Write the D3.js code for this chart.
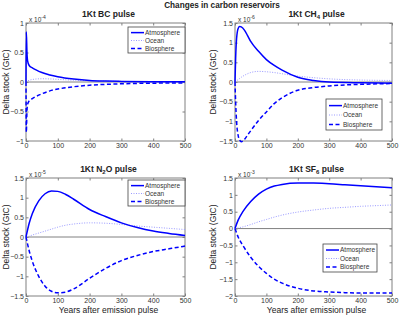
<!DOCTYPE html>
<html><head><meta charset="utf-8">
<script src="https://cdn.jsdelivr.net/npm/d3@7"></script>
<style>body{margin:0;background:#fff}svg{display:block;font-family:"Liberation Sans",Arial,sans-serif}</style>
</head><body><svg id="c" width="400" height="317"></svg>
<script>
const mainTitle = "Changes in carbon reservoirs";
const seriesNames = ["Atmosphere", "Ocean", "Biosphere"];
const xTicks = [0, 100, 200, 300, 400, 500];

// BC pulse (x 1e-4)
const bcYears = [0, 1, 3, 5, 10, 20, 30, 50, 75, 100, 150, 200, 250, 300, 400, 500];
const bcAtm   = [0, 0.85, 0.5, 0.36, 0.28, 0.24, 0.21, 0.16, 0.12, 0.09, 0.05, 0.025, 0.015, 0.01, 0.005, 0.003];
const bcOcn   = [0, 0.005, 0.012, 0.018, 0.03, 0.042, 0.05, 0.055, 0.052, 0.045, 0.03, 0.02, 0.014, 0.01, 0.006, 0.004];
const bcBio   = [0, -0.85, -0.5, -0.38, -0.32, -0.28, -0.25, -0.2, -0.15, -0.12, -0.08, -0.055, -0.04, -0.03, -0.02, -0.015];

// CH4 pulse (x 1e-6)
const ch4Years = [0, 2, 5, 10, 15, 20, 30, 40, 50, 75, 100, 125, 150, 200, 250, 300, 400, 500];
const ch4Atm   = [0, 0.6, 1.1, 1.36, 1.41, 1.4, 1.32, 1.18, 1.03, 0.78, 0.57, 0.42, 0.3, 0.12, 0.04, 0.0, -0.02, -0.03];
const ch4Ocn   = [0, 0.01, 0.03, 0.06, 0.09, 0.12, 0.17, 0.21, 0.24, 0.27, 0.26, 0.24, 0.21, 0.15, 0.11, 0.08, 0.05, 0.04];
const ch4Bio   = [0, -0.5, -1.0, -1.36, -1.48, -1.52, -1.46, -1.35, -1.24, -0.98, -0.76, -0.55, -0.4, -0.21, -0.14, -0.1, -0.06, -0.04];

// N2O pulse (x 1e-5)
const n2oYears = [0, 10, 20, 40, 60, 80, 100, 125, 150, 200, 250, 300, 350, 400, 450, 500];
const n2oAtm   = [0, 0.35, 0.6, 0.92, 1.1, 1.17, 1.16, 1.08, 0.96, 0.7, 0.52, 0.36, 0.24, 0.15, 0.09, 0.04];
const n2oOcn   = [0, 0.02, 0.05, 0.1, 0.15, 0.2, 0.25, 0.3, 0.33, 0.36, 0.35, 0.32, 0.28, 0.25, 0.22, 0.19];
const n2oBio   = [0, -0.35, -0.62, -1.0, -1.25, -1.38, -1.42, -1.4, -1.32, -1.05, -0.8, -0.6, -0.47, -0.37, -0.3, -0.23];

// SF6 pulse (x 1e-3)
const sf6Years = [0, 10, 25, 50, 75, 100, 125, 150, 200, 250, 300, 350, 400, 450, 500];
const sf6Atm   = [0, 0.25, 0.5, 0.8, 1.02, 1.17, 1.26, 1.31, 1.35, 1.35, 1.33, 1.3, 1.27, 1.24, 1.21];
const sf6Ocn   = [0, 0.02, 0.05, 0.12, 0.2, 0.27, 0.34, 0.4, 0.49, 0.55, 0.6, 0.63, 0.66, 0.68, 0.7];
const sf6Bio   = [0, -0.25, -0.5, -0.85, -1.12, -1.33, -1.5, -1.62, -1.77, -1.85, -1.88, -1.9, -1.91, -1.91, -1.91];

const panels = [
  {title: ["1Kt BC pulse"], exp: "-4", years: bcYears, s: [bcAtm, bcOcn, bcBio], yDom: [-1, 1], yTicks: [-1, -0.5, 0, 0.5, 1], xlab: false},
  {title: ["1Kt CH", "4", " pulse"], exp: "-6", years: ch4Years, s: [ch4Atm, ch4Ocn, ch4Bio], yDom: [-1.5, 1.5], yTicks: [-1.5, -1, -0.5, 0, 0.5, 1, 1.5], xlab: false},
  {title: ["1Kt N", "2", "O pulse"], exp: "-5", years: n2oYears, s: [n2oAtm, n2oOcn, n2oBio], yDom: [-1.5, 1.5], yTicks: [-1.5, -1, -0.5, 0, 0.5, 1, 1.5], xlab: true},
  {title: ["1Kt SF", "6", " pulse"], exp: "-3", years: sf6Years, s: [sf6Atm, sf6Ocn, sf6Bio], yDom: [-2, 1.5], yTicks: [-2, -1.5, -1, -0.5, 0, 0.5, 1, 1.5], xlab: true}
];

const boxes = [
  {l: 26, r: 185, t: 23, b: 141, leg: [128, 27, 57, 26], yl: 17},
  {l: 235, r: 392, t: 23, b: 141, leg: [326, 99, 56, 31], yl: 19},
  {l: 26, r: 185, t: 178, b: 296, leg: [128, 180, 57, 26], yl: 17},
  {l: 235, r: 392, t: 178, b: 296, leg: [323, 244, 54, 28], yl: 19}
];

const styles = [
  {stroke: "#0000ff", width: 1.5, dash: null},
  {stroke: "#9a9aff", width: 1, dash: "1,1.5"},
  {stroke: "#0000ff", width: 1.5, dash: "4,2.5"}
];

const svg = d3.select("#c");
const axisCol = "#808080", textCol = "#333";
const fmt = v => (v < 0 ? "\u2212" : "") + Math.abs(v);

svg.append("text").attr("x", 222).attr("y", 8).attr("text-anchor", "middle")
  .attr("font-size", 8.2).attr("font-weight", "bold").attr("fill", "#222").text(mainTitle);

panels.forEach((p, i) => {
  const B = boxes[i];
  const x = d3.scaleLinear().domain([0, 500]).range([B.l, B.r]);
  const y = d3.scaleLinear().domain(p.yDom).range([B.b, B.t]);
  const g = svg.append("g");

  g.append("rect").attr("x", B.l).attr("y", B.t).attr("width", B.r - B.l).attr("height", B.b - B.t)
    .attr("fill", "none").attr("stroke", axisCol).attr("stroke-width", 1);

  const xb = g.append("g").attr("transform", `translate(0,${B.b})`)
    .call(d3.axisBottom(x).tickValues(xTicks).tickSize(-2.5).tickPadding(2).tickFormat(d3.format("d")));
  const xt = g.append("g").attr("transform", `translate(0,${B.t})`)
    .call(d3.axisTop(x).tickValues(xTicks).tickSize(-2.5).tickFormat(""));
  const yl = g.append("g").attr("transform", `translate(${B.l},0)`)
    .call(d3.axisLeft(y).tickValues(p.yTicks).tickSize(-2.5).tickPadding(2).tickFormat(fmt));
  const yr = g.append("g").attr("transform", `translate(${B.r},0)`)
    .call(d3.axisRight(y).tickValues(p.yTicks).tickSize(-2.5).tickFormat(""));
  [xb, xt, yl, yr].forEach(a => {
    a.select(".domain").remove();
    a.selectAll("line").attr("stroke", axisCol);
    a.selectAll("text").attr("fill", textCol).attr("font-size", 7).attr("font-family", "Liberation Sans, Arial, sans-serif");
  });

  g.append("line").attr("x1", B.l).attr("x2", B.r).attr("y1", y(0)).attr("y2", y(0))
    .attr("stroke", axisCol).attr("stroke-width", 1);

  [1, 0, 2].forEach(k => {
    const data = p.years.map((yr, j) => [yr, p.s[k][j]]);
    const line = d3.line().x(d => x(d[0])).y(d => y(d[1])).curve(d3.curveMonotoneX);
    const path = g.append("path").datum(data).attr("d", line).attr("fill", "none")
      .attr("stroke", styles[k].stroke).attr("stroke-width", styles[k].width);
    if (styles[k].dash) path.attr("stroke-dasharray", styles[k].dash);
  });

  const tt = g.append("text").attr("x", (B.l + B.r) / 2 + 3).attr("y", B.t - 6).attr("text-anchor", "middle")
    .attr("font-size", 8.5).attr("font-weight", "bold").attr("fill", "#222");
  p.title.forEach((part, j) => {
    const ts = tt.append("tspan").text(part);
    if (j === 1) ts.attr("font-size", 6).attr("dy", 2);
    if (j === 2) ts.attr("dy", -2);
  });

  const ex = g.append("text").attr("x", B.l + 3).attr("y", B.t - 1).attr("font-size", 6.5).attr("fill", textCol);
  ex.append("tspan").text("x 10");
  ex.append("tspan").attr("font-size", 5).attr("dy", -3).text(p.exp);

  g.append("text").attr("transform", `translate(${B.l - B.yl},${(B.t + B.b) / 2}) rotate(-90)`)
    .attr("text-anchor", "middle").attr("font-size", 8.5).attr("fill", "#222").text("Delta stock (GtC)");

  if (p.xlab) {
    g.append("text").attr("x", (B.l + B.r) / 2 + 3).attr("y", B.b + 17).attr("text-anchor", "middle")
      .attr("font-size", 8.5).attr("fill", "#222").text("Years after emission pulse");
  }

  const [lx, ly, lw, lh] = B.leg;
  const lg = g.append("g");
  lg.append("rect").attr("x", lx).attr("y", ly).attr("width", lw).attr("height", lh)
    .attr("fill", "#fff").attr("stroke", "#444").attr("stroke-width", 0.8);
  const step = lh / 3.3;
  seriesNames.forEach((nm, k) => {
    const cy = ly + step * (k + 0.65) + 0.5;
    const ln = lg.append("line").attr("x1", lx + 3).attr("x2", lx + 16).attr("y1", cy).attr("y2", cy)
      .attr("stroke", styles[k].stroke).attr("stroke-width", styles[k].width);
    if (styles[k].dash) ln.attr("stroke-dasharray", styles[k].dash);
    lg.append("text").attr("x", lx + 17).attr("y", cy + 2.3).attr("font-size", 6.5).attr("fill", "#333").text(nm);
  });
});
</script></body></html>
